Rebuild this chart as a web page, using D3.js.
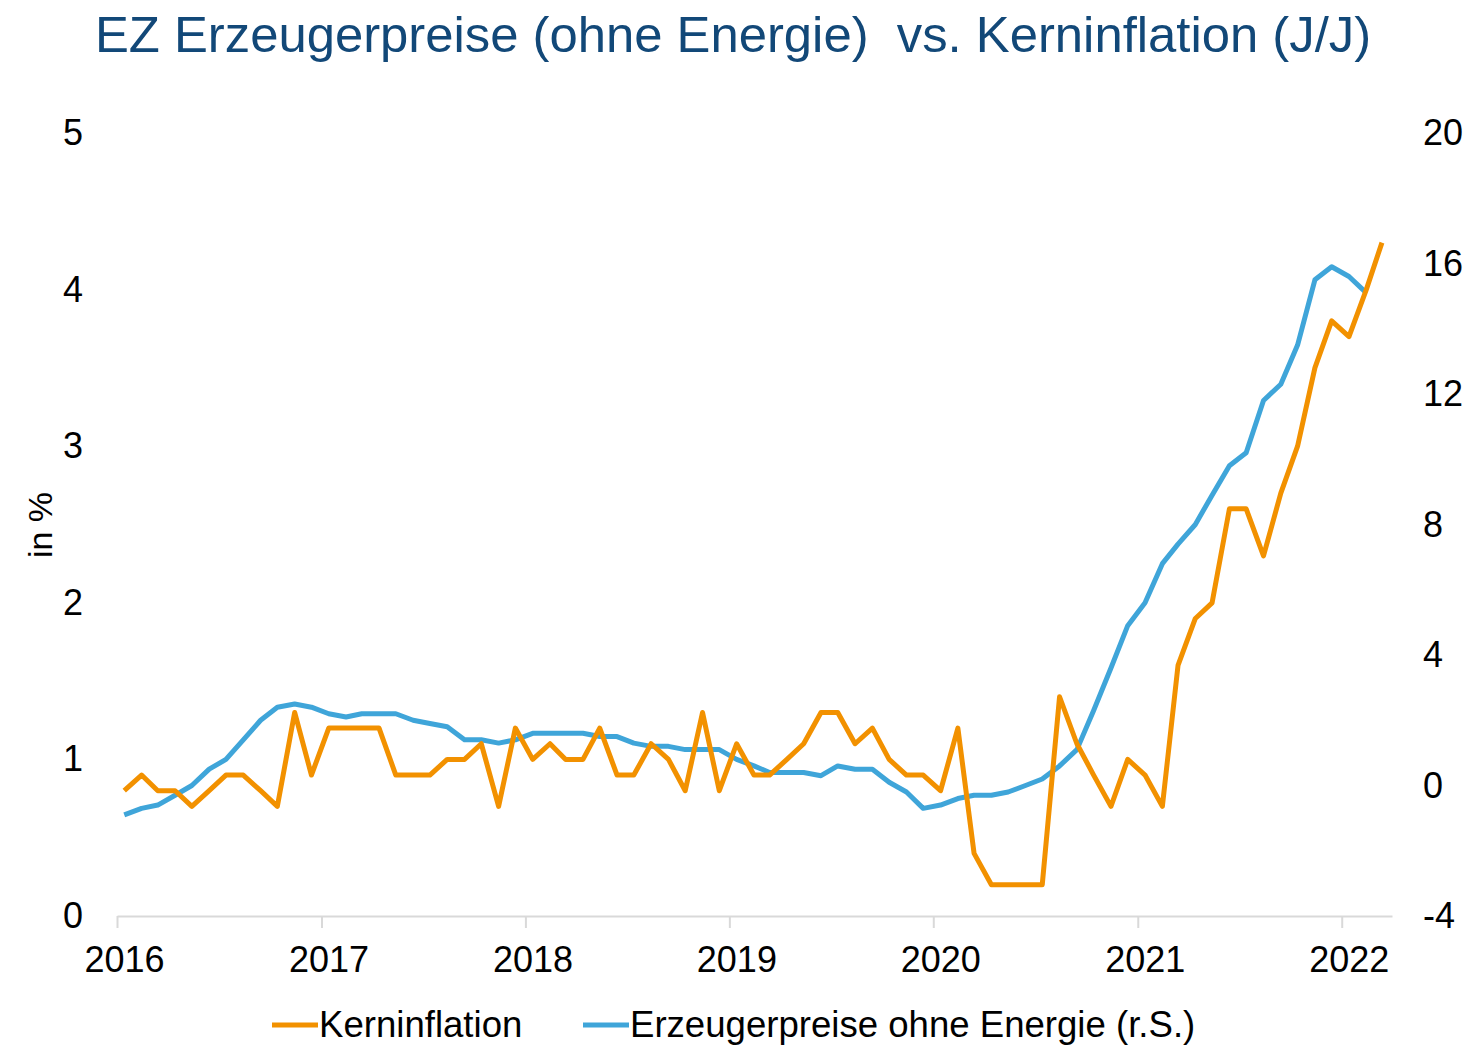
<!DOCTYPE html>
<html>
<head>
<meta charset="utf-8">
<script src="https://cdn.jsdelivr.net/npm/d3@7"></script>
<style>
  body { margin: 0; background: #fff; }
  text { font-family: "Liberation Sans", Arial, sans-serif; }
</style>
</head>
<body>
<script>
// chart data, monthly from Jan 2016
var startMonth = new Date(2016, 0, 14);

var kerninflation = [
  0.8, 0.9, 0.8, 0.8, 0.7, 0.8, 0.9, 0.9, 0.8, 0.7, 1.3, 0.9,
  1.2, 1.2, 1.2, 1.2, 0.9, 0.9, 0.9, 1.0, 1.0, 1.1, 0.7, 1.2,
  1.0, 1.1, 1.0, 1.0, 1.2, 0.9, 0.9, 1.1, 1.0, 0.8, 1.3, 0.8,
  1.1, 0.9, 0.9, 1.0, 1.1, 1.3, 1.3, 1.1, 1.2, 1.0, 0.9, 0.9,
  0.8, 1.2, 0.4, 0.2, 0.2, 0.2, 0.2, 1.4, 1.1, 0.9, 0.7, 1.0,
  0.9, 0.7, 1.6, 1.9, 2.0, 2.6, 2.6, 2.3, 2.7, 3.0, 3.5, 3.8,
  3.7, 4.0, 4.3
];

var erzeugerpreise = [
  -0.9, -0.7, -0.6, -0.3, 0.0, 0.5, 0.8, 1.4, 2.0, 2.4, 2.5, 2.4,
  2.2, 2.1, 2.2, 2.2, 2.2, 2.0, 1.9, 1.8, 1.4, 1.4, 1.3, 1.4,
  1.6, 1.6, 1.6, 1.6, 1.5, 1.5, 1.3, 1.2, 1.2, 1.1, 1.1, 1.1,
  0.8, 0.6, 0.4, 0.4, 0.4, 0.3, 0.6, 0.5, 0.5, 0.1, -0.2, -0.7,
  -0.6, -0.4, -0.3, -0.3, -0.2, 0.0, 0.2, 0.6, 1.1, 2.3, 3.6, 4.9,
  5.6, 6.8, 7.4, 8.0, 8.9, 9.8, 10.2, 11.8, 12.3, 13.5, 15.5, 15.9,
  15.6, 15.1
];

var leftTicks = [0, 1, 2, 3, 4, 5];
var rightTicks = [-4, 0, 4, 8, 12, 16, 20];

var seriesNames = ['Kerninflation', 'Erzeugerpreise ohne Energie (r.S.)'];
var titleText = 'EZ Erzeugerpreise (ohne Energie)  vs. Kerninflation (J/J)';

var orange = '#f29100';
var blue = '#3fa5d9';

var width = 1471;
var height = 1047;

var svg = d3.select('body')
  .append('svg')
  .attr('width', width)
  .attr('height', height);

var x = d3.scaleTime()
  .domain([new Date(2016, 0, 1), new Date(2022, 3, 1)])
  .range([117, 1392]);

var yLeft = d3.scaleLinear().domain([0, 5]).range([916, 133]);
var yRight = d3.scaleLinear().domain([-4, 20]).range([916, 133]);

function monthDate(i) {
  return d3.timeMonth.offset(startMonth, i);
}

function plainNumber(d) { return String(d); }

// title
svg.append('text')
  .attr('x', 733)
  .attr('y', 52)
  .attr('text-anchor', 'middle')
  .attr('font-size', 50.8)
  .attr('fill', '#124878')
  .style('white-space', 'pre')
  .text(titleText);

// x axis
var xAxis = svg.append('g')
  .attr('transform', 'translate(0,916)')
  .call(d3.axisBottom(x)
    .ticks(d3.timeYear.every(1))
    .tickFormat(d3.timeFormat('%Y'))
    .tickSizeInner(12)
    .tickSizeOuter(0)
    .tickPadding(18));
xAxis.select('.domain').attr('stroke', '#d9d9d9').attr('stroke-width', 2);
xAxis.selectAll('.tick line').attr('stroke', '#d9d9d9').attr('stroke-width', 2);
xAxis.selectAll('.tick text')
  .attr('dx', 7)
  .attr('font-size', 36)
  .attr('font-family', '"Liberation Sans", Arial, sans-serif')
  .attr('fill', '#000');

// left axis
var leftAxis = svg.append('g')
  .attr('transform', 'translate(117,0)')
  .call(d3.axisLeft(yLeft).tickValues(leftTicks).tickFormat(plainNumber)
    .tickSize(0).tickPadding(34));
leftAxis.select('.domain').remove();
leftAxis.selectAll('.tick text')
  .attr('font-size', 36)
  .attr('font-family', '"Liberation Sans", Arial, sans-serif')
  .attr('fill', '#000');

// right axis
var rightAxis = svg.append('g')
  .attr('transform', 'translate(1392,0)')
  .call(d3.axisRight(yRight).tickValues(rightTicks).tickFormat(plainNumber)
    .tickSize(0).tickPadding(31));
rightAxis.select('.domain').remove();
rightAxis.selectAll('.tick text')
  .attr('font-size', 36)
  .attr('font-family', '"Liberation Sans", Arial, sans-serif')
  .attr('fill', '#000');

// y label
svg.append('text')
  .attr('transform', 'translate(52,525) rotate(-90)')
  .attr('text-anchor', 'middle')
  .attr('font-size', 34)
  .attr('fill', '#000')
  .text('in %');

// lines
var lineLeft = d3.line()
  .x(function(d, i) { return x(monthDate(i)); })
  .y(function(d) { return yLeft(d); });

var lineRight = d3.line()
  .x(function(d, i) { return x(monthDate(i)); })
  .y(function(d) { return yRight(d); });

svg.append('path')
  .datum(erzeugerpreise)
  .attr('d', lineRight)
  .attr('fill', 'none')
  .attr('stroke', blue)
  .attr('stroke-width', 5)
  .attr('stroke-linejoin', 'round');

svg.append('path')
  .datum(kerninflation)
  .attr('d', lineLeft)
  .attr('fill', 'none')
  .attr('stroke', orange)
  .attr('stroke-width', 5)
  .attr('stroke-linejoin', 'round');

// legend
var legendItems = [
  {name: seriesNames[0], color: orange, x: 272},
  {name: seriesNames[1], color: blue, x: 583}
];

var legend = svg.selectAll('.legend')
  .data(legendItems)
  .enter()
  .append('g')
  .attr('class', 'legend')
  .attr('transform', function(d) { return 'translate(' + d.x + ',1025)'; });

legend.append('line')
  .attr('x1', 0)
  .attr('x2', 46)
  .attr('y1', 0)
  .attr('y2', 0)
  .attr('stroke', function(d) { return d.color; })
  .attr('stroke-width', 5);

legend.append('text')
  .attr('x', 47)
  .attr('y', 12)
  .attr('font-size', 36.6)
  .attr('fill', '#000')
  .text(function(d) { return d.name; });
</script>
</body>
</html>
